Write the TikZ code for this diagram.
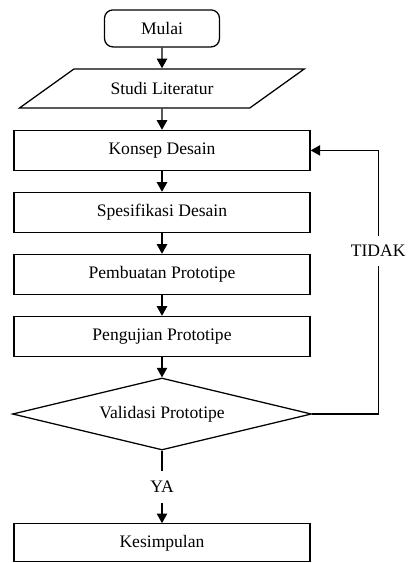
\documentclass[tikz,border=0pt]{standalone}
\usepackage{fontspec}
\setmainfont{Liberation Serif}
\usepackage{tikz}
\usetikzlibrary{shapes.geometric, arrows, arrows.meta, positioning, calc}
\tikzstyle{startstop} = [rectangle, rounded corners=6pt, minimum width=2.875cm, minimum height=0.925cm, text centered, draw=black, line width=0.9pt]
\tikzstyle{io} = [trapezium, trapezium left angle=32, trapezium right angle=148, trapezium stretches=true, minimum width=7.125cm, minimum height=0.975cm, text centered, draw=black, line width=0.9pt]
\tikzstyle{process} = [rectangle, minimum width=7.4cm, minimum height=1cm, text centered, draw=black, line width=0.9pt]
\tikzstyle{decision} = [diamond, aspect=4.15, minimum width=7.475cm, minimum height=1.8cm, inner sep=0pt, text centered, draw=black, line width=0.9pt]
\tikzstyle{answer} = [fill=white, inner sep=1pt, minimum height=0.8cm]
\tikzstyle{arrow} = [line width=0.9pt,->,>={Triangle[width=2.6mm,length=2.4mm]}]

\begin{document}
\begin{tikzpicture}[node distance=1.55cm, font=\fontsize{12.5}{15}\selectfont]
        \useasboundingbox (0,0) rectangle (10.175,-14.075);
        % Start
        \node (mulai) [startstop] at (4.05,-0.71) {Mulai};
        \node (studi) [io, below of=mulai, yshift=0.05cm] {Studi Literatur};

        % Design steps
        \node (konsep) [process, below of=studi] {Konsep Desain};
        \node (spesifikasi) [process, below of=konsep] {Spesifikasi Desain};
        \node (pembuatan) [process, below of=spesifikasi] {Pembuatan Prototipe};
        \node (pengujian) [process, below of=pembuatan] {Pengujian Prototipe};

        % Decision
        \node (validasi) [decision, below of=pengujian, yshift=-0.39cm] {Validasi Prototipe};
        \node (kesimpulan) [process, below of=validasi, yshift=-1.67cm, minimum height=0.95cm] {Kesimpulan};

        % Arrows
        \draw [arrow] (mulai) -- (studi);
        \draw [arrow] (studi) -- (konsep);
        \draw [arrow] (konsep) -- (spesifikasi);
        \draw [arrow] (spesifikasi) -- (pembuatan);
        \draw [arrow] (pembuatan) -- (pengujian);
        \draw [arrow] (pengujian) -- (validasi);
        \draw [arrow] (validasi) -- node[answer] {YA} (kesimpulan);
        \draw [arrow] (validasi.east) -- ++(1.65,0) |- node[answer, pos=0.31, minimum height=0.75cm] {TIDAK} (konsep.east);
      \end{tikzpicture}
\end{document}
